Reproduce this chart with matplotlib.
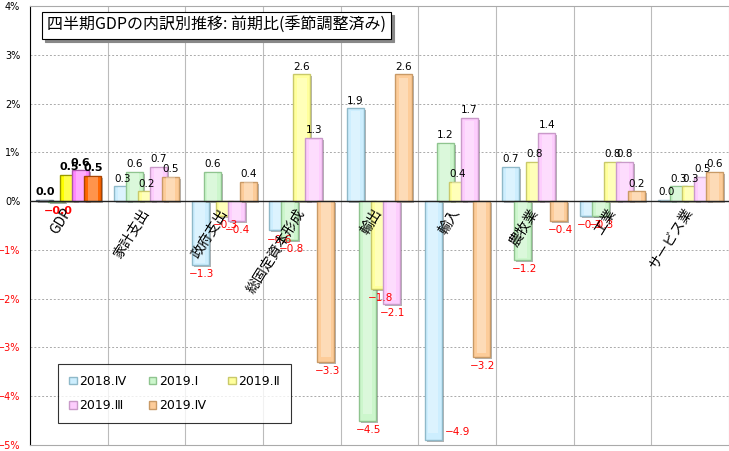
import matplotlib
matplotlib.use("Agg")
import matplotlib.pyplot as plt
import matplotlib.transforms as mtransforms
from matplotlib.patches import Patch
from matplotlib.ticker import FuncFormatter
import numpy as np

plt.rcParams["font.family"] = ["Noto Sans CJK JP", "DejaVu Sans"]

TITLE = "四半期GDPの内訳別推移: 前期比(季節調整済み)"
CATEGORIES = ["GDP", "家計支出", "政府支出", "総固定資本形成", "輸出",
              "輸入", "農牧業", "工業", "サービス業"]
SERIES = ["2018.Ⅳ", "2019.Ⅰ", "2019.Ⅱ", "2019.Ⅲ", "2019.Ⅳ"]

Q2018_4 = [0.02, 0.3, -1.3, -0.6, 1.9, -4.9, 0.7, -0.3, 0.02]
Q2019_1 = [-0.02, 0.6, 0.6, -0.8, -4.5, 1.2, -1.2, -0.3, 0.3]
Q2019_2 = [0.53, 0.2, -0.3, 2.6, -1.8, 0.4, 0.8, 0.8, 0.3]
Q2019_3 = [0.63, 0.7, -0.4, 1.3, -2.1, 1.7, 1.4, 0.8, 0.5]
Q2019_4 = [0.51, 0.5, 0.4, -3.3, 2.6, -3.2, -0.4, 0.2, 0.6]
VALUES = [Q2018_4, Q2019_1, Q2019_2, Q2019_3, Q2019_4]

FACE = ["#cdeefe", "#ccf6cc", "#ffff9c", "#fdcdfd", "#fdcc99"]
EDGE = ["#8fb9c9", "#8fc48f", "#c9c96a", "#c99ac9", "#c99a66"]
GDP_FACE = ["#7799aa", "#88bb88", "#ffff00", "#ff88ff", "#ff6600"]
GDP_EDGE = ["#556677", "#669966", "#999900", "#aa55aa", "#aa4400"]

fig = plt.figure(figsize=(7.29, 4.51), dpi=100)
ax = fig.add_axes([30 / 729, 6 / 451, 699 / 729, 439 / 451])

x = np.arange(len(CATEGORIES))
step = 0.155
width = 0.22
shadow = mtransforms.offset_copy(ax.transData, fig=fig, x=2, y=-2, units="dots")

for k, vals in enumerate(VALUES):
    pos = x + (k - 2) * step
    faces = [GDP_FACE[k] if i == 0 else FACE[k] for i in range(len(vals))]
    edges = [GDP_EDGE[k] if i == 0 else EDGE[k] for i in range(len(vals))]
    z = 2 + k * 0.1
    ax.bar(pos, vals, width=width, color="#666666", alpha=0.5,
           transform=shadow, zorder=z)
    ax.bar(pos, vals, width=width, color=faces, edgecolor=edges,
           linewidth=1.0, zorder=z + 0.02)
    # soft highlight in the middle of each bar (bevel look)
    ax.bar(pos, np.array(vals) * 0.97, width=width * 0.55, color="white",
           alpha=0.3, linewidth=0, zorder=z + 0.04)
    for i, v in enumerate(vals):
        bold = "bold" if i == 0 else "normal"
        fs = 8 if i == 0 else 7.5
        if v >= 0:
            ax.annotate(f"{v:.1f}", (pos[i], v), xytext=(0, 2),
                        textcoords="offset points", ha="center", va="bottom",
                        fontsize=fs, color="black", fontweight=bold,
                        family=["DejaVu Sans"], zorder=5)
        elif v < -4.7:
            ax.annotate("−" + f"{abs(v):.1f}", (pos[i] + width / 2, v),
                        xytext=(2, 6), textcoords="offset points", ha="left",
                        va="center", fontsize=fs, color="red",
                        family=["DejaVu Sans"], zorder=5)
        else:
            ax.annotate("−" + f"{abs(v):.1f}", (pos[i], v), xytext=(1, -3),
                        textcoords="offset points", ha="center", va="top",
                        fontsize=fs, color="red", fontweight=bold,
                        family=["DejaVu Sans"], zorder=5)

for i, name in enumerate(CATEGORIES):
    ax.text(i - 0.08, -0.1, name, rotation=58, rotation_mode="anchor",
            ha="right", va="top", fontsize=10, zorder=6)

ax.set_xlim(-0.5, len(CATEGORIES) - 0.5)
ax.set_ylim(-5, 4)
ax.set_yticks(np.arange(-5, 5))
ax.yaxis.set_major_formatter(FuncFormatter(
    lambda v, p: f"{int(v)}%" if v >= 0 else f"−{int(abs(v))}%"))
ax.set_xticks(np.arange(-0.5, len(CATEGORIES)))
ax.set_xticklabels([])
ax.tick_params(axis="x", length=0)
ax.tick_params(axis="y", length=0, labelsize=7, pad=7)
for t, v in zip(ax.get_yticklabels(), np.arange(-5, 5)):
    t.set_color("red" if v < 0 else "black")
    t.set_family(["DejaVu Sans"])

ax.grid(axis="y", linestyle=(0, (2, 2)), color="#aaaaaa", linewidth=0.7, zorder=0)
ax.grid(axis="x", linestyle="-", color="#bbbbbb", linewidth=0.8, zorder=0)
ax.set_axisbelow(True)
ax.axhline(0, color="#222222", linewidth=1.0, zorder=4)
ax.spines["left"].set_color("black")
ax.spines["top"].set_color("#aaaaaa")
ax.spines["bottom"].set_color("#aaaaaa")
ax.spines["right"].set_visible(False)

legend_handles = [Patch(facecolor=FACE[k], edgecolor=EDGE[k], label=SERIES[k])
                  for k in range(len(SERIES))]
order = [0, 3, 1, 4, 2]
leg = ax.legend(handles=[legend_handles[k] for k in order], ncol=3,
                loc="lower left", bbox_to_anchor=(0.031, 0.035, 0.352, 0.141),
                mode="expand", prop={"family": ["DejaVu Sans"], "size": 9},
                frameon=True, fancybox=False, edgecolor="black",
                handlelength=0.6, handleheight=0.6, handletextpad=0.2,
                borderpad=0.9, labelspacing=0.9, columnspacing=1.0)
leg.get_frame().set_linewidth(0.8)
leg.set_zorder(7)

# title box with a drop shadow behind it
title_x, title_y = 47 / 729, 1 - 25.5 / 451
fig.text(title_x + 3 / 729, title_y - 3 / 451, TITLE, fontsize=11.5, ha="left",
         va="center", color="#888888", zorder=8,
         bbox=dict(boxstyle="square,pad=0.3", facecolor="#888888",
                   edgecolor="#888888", linewidth=0.8))
fig.text(title_x, title_y, TITLE, fontsize=11.5, ha="left", va="center",
         zorder=9, bbox=dict(boxstyle="square,pad=0.3", facecolor="white",
                             edgecolor="black", linewidth=0.8))

fig.savefig("out.png", dpi=100)
